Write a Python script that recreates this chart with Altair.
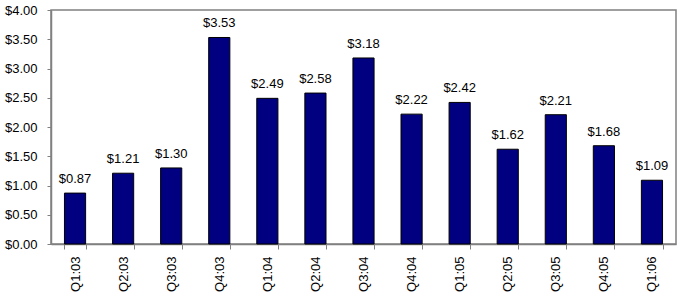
import altair as alt
import pandas as pd

quarters = ["Q1:03", "Q2:03", "Q3:03", "Q4:03", "Q1:04", "Q2:04", "Q3:04",
            "Q4:04", "Q1:05", "Q2:05", "Q3:05", "Q4:05", "Q1:06"]
values = [0.87, 1.21, 1.30, 3.53, 2.49, 2.58, 3.18, 2.22, 2.42, 1.62, 2.21, 1.68, 1.09]

df = pd.DataFrame({"q": quarters, "v": values})
df["label"] = ["${:.2f}".format(v) for v in values]

FONT = "Liberation Sans"

x = alt.X("q:N", sort=quarters, title=None,
          scale=alt.Scale(paddingInner=0.56, paddingOuter=0.28),
          axis=alt.Axis(labelAngle=-90, labelAlign="right", labelBaseline="middle",
                        tickBand="extent", tickSize=5, labelPadding=7,
                        labelFontSize=13, labelColor="black", labelFont=FONT,
                        labelOverlap=False,
                        domainColor="#808080", tickColor="#808080", domainWidth=1.5))
y = alt.Y("v:Q", title=None,
          scale=alt.Scale(domain=[0, 4], nice=False),
          axis=alt.Axis(values=[0, 0.5, 1, 1.5, 2, 2.5, 3, 3.5, 4], format="$.2f",
                        tickSize=4, labelPadding=10, grid=False, labelOverlap=False,
                        labelFontSize=13, labelColor="black", labelFont=FONT,
                        domainColor="#808080", tickColor="#808080", domainWidth=1.5))

base = alt.Chart(df).encode(x=x, y=y)
bars = base.mark_bar(color="#000080", stroke="black", strokeWidth=1)
text = base.mark_text(baseline="bottom", dy=-7, fontSize=13, font=FONT, color="black").encode(
    text="label:N")

chart = alt.layer(bars, text).properties(
    width=625, height=234,
    autosize=alt.AutoSizeParams(type="none"),
    padding={"left": 51, "top": 10, "right": 1, "bottom": 51},
).configure_view(stroke="#808080", strokeWidth=1.5)

chart.save("out.html", embed_options={"renderer": "svg", "actions": False})
